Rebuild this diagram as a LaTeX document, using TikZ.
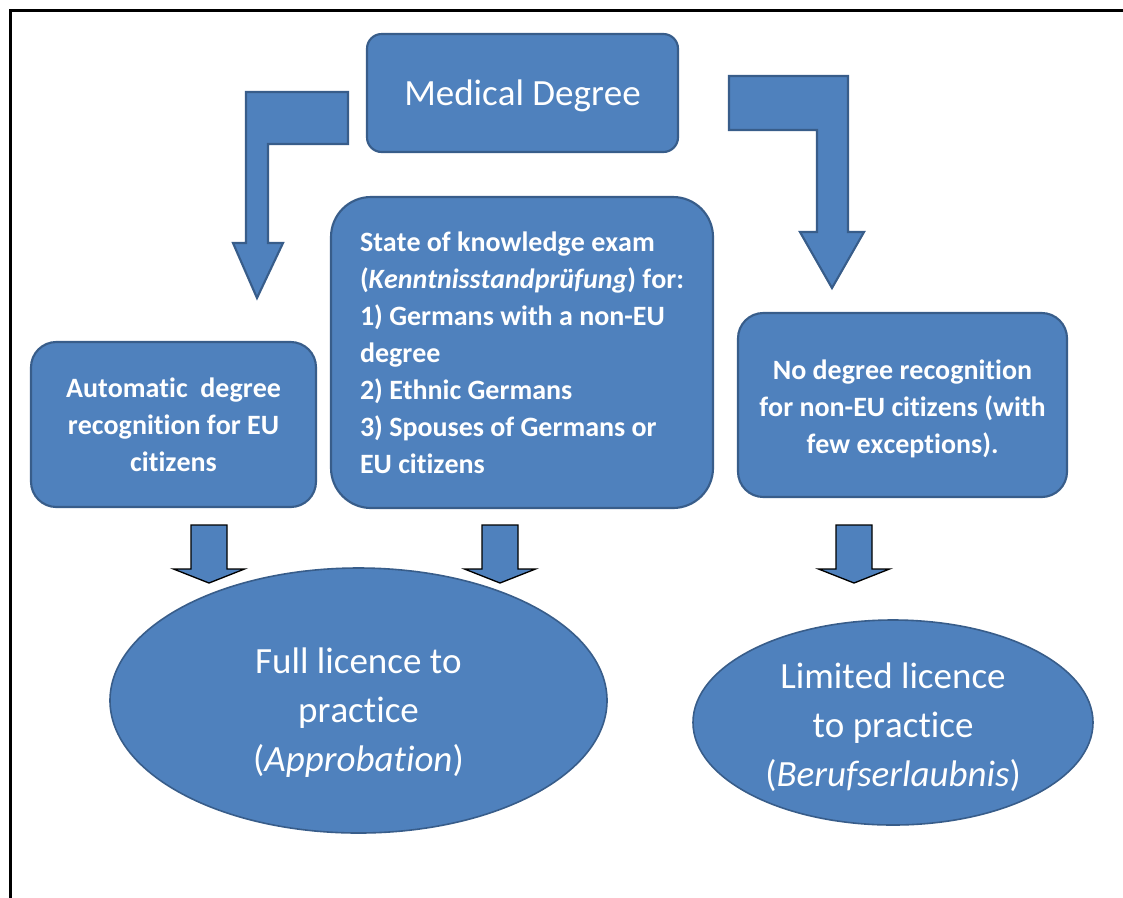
\documentclass[tikz,border=0pt]{standalone}
\usepackage{fontspec}
\setmainfont{Carlito}[Ligatures={NoCommon,NoContextual,NoRequired,NoRare}, RawFeature=-calt, Kerning=Off]
\usetikzlibrary{shapes.geometric}
\definecolor{boxfill}{HTML}{4F81BD}
\definecolor{boxline}{HTML}{385D8A}
\tikzset{
  blockbox/.style={draw=boxline, line width=1.6pt, fill=boxfill, text=white, inner sep=0pt, align=center},
  ovalbox/.style={ellipse, draw=boxline, line width=1.2pt, fill=boxfill, inner sep=0pt},
  ovaltext/.style={text=white, inner sep=0pt, align=center, font=\fontsize{27.75}{36.75}\selectfont},
  boldtext/.style={font=\fontsize{21}{27.75}\selectfont\bfseries},
  bentarrow/.style={draw=boxline, line width=1.6pt, fill=boxfill, line join=miter},
  smallarrow/.style={draw=black, line width=1pt, fill=boxfill, line join=miter},
  pics/downblock/.style={code={
    \path[smallarrow] (-18,0) -- (18,0) -- (18,44) -- (35.5,44) -- (0,58) -- (-35.5,44) -- (-18,44) -- cycle;
  }}
}
\begin{document}
\begin{tikzpicture}[x=0.75pt, y=-0.75pt]
\useasboundingbox (0,0) rectangle (1123,897);
\fill[white] (0,0) rectangle (1123,897);
% frame
\draw[line width=2.4pt, line cap=rect] (1125,10.5) -- (10.5,10.5) -- (10.5,900);

% nodes
\node[blockbox, rounded corners=11pt, minimum width=233.25pt, minimum height=88.5pt] (med) at (522.5,93) {};
\node[text=white, inner sep=0pt, font=\fontsize{27.75}{33}\selectfont] (medtext) at ([yshift=-2pt]med.center) {Medical Degree};

\node[blockbox, boldtext, rounded corners=19pt, minimum width=213.75pt, minimum height=123.75pt] (auto) at (173.5,424.5)
  {Automatic\ \ degree\\ recognition for EU\\ citizens};

\node[blockbox, boldtext, rounded corners=30pt, minimum width=286.5pt, minimum height=233.25pt, align=left] (state) at (522,352.5)
  {State of knowledge exam\\ (\textit{Kenntnisstandprüfung}) for:\\ 1) Germans with a non-EU\\ degree\\ 2) Ethnic Germans\\ 3) Spouses of Germans or\\ EU citizens};

\node[blockbox, rounded corners=19pt, minimum width=246.75pt, minimum height=138pt] (norec) at (902.5,405) {};
\node[boldtext, text=white, align=center, inner sep=0pt] (norectext) at ([yshift=-3pt]norec.center)
  {No degree recognition\\ for non-EU citizens (with\\ few exceptions).};

\node[ovalbox, minimum width=372.75pt, minimum height=198.75pt] (full) at (358.5,700.5) {};
\node[ovaltext] (fulltext) at ([yshift=-9pt]full.center)
  {Full licence to\\ practice\\ (\textit{Approbation})};

\node[ovalbox, minimum width=300pt, minimum height=153.75pt] (limited) at (893,722.5) {};
\node[ovaltext] (limitedtext) at ([yshift=-3.5pt]limited.center)
  {Limited licence\\ to practice\\ (\textit{Berufserlaubnis})};

% bent arrows from Medical Degree
\path[bentarrow] (348,92) -- (246,92) -- (246,243) -- (233,243) -- (257,298) -- (283,243) -- (268,243) -- (268,144) -- (348,144) -- cycle;
\path[bentarrow] (729,76) -- (848,76) -- (848,232) -- (864,232) -- (832,288) -- (800,232) -- (817,232) -- (817,130) -- (729,130) -- cycle;

% small down arrows
\pic at (209,525) {downblock};
\pic at (500,525) {downblock};
\pic at (854,525) {downblock};
\end{tikzpicture}
\end{document}
